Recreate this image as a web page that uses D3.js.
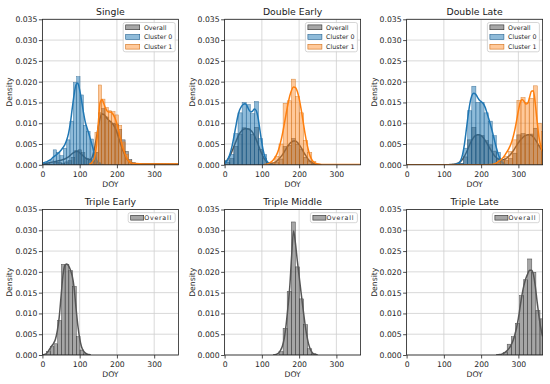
<!DOCTYPE html>
<html>
<head>
<meta charset="utf-8">
<script src="https://cdn.jsdelivr.net/npm/d3@7"></script>
<style>
    body { margin: 0; background: #ffffff; }
    svg { display: block; font-family: "DejaVu Sans", sans-serif; }
</style>
</head>
<body>
<div id="chart"></div>
<script>
(function() {
    'use strict';

    // ---- data (density per bin, DOY) ----
    var panelTitles = ["Single", "Double Early", "Double Late", "Triple Early", "Triple Middle", "Triple Late"];
    var seriesNames = ["Overall", "Cluster 0", "Cluster 1"];
    var xTicks = [0, 100, 200, 300];
    var yTicks = [0, 0.005, 0.010, 0.015, 0.020, 0.025, 0.030, 0.035];
    var xDomain = [0, 365];
    var yDomain = [0, 0.035];

    // first bin edge for [overall, cluster 0, cluster 1], and bin width (days)
    var singleBinStart = [6, 2, 132];
    var singleBinWidth = 9;
    var singleOverallHist = [0.0001, 0.0001, 0.0002, 0.0006, 0.0005, 0.0004, 0.0007, 0.0010, 0.0018, 0.0034,
        0.0036, 0.0029, 0.0016, 0.0014, 0.0012, 0.0030, 0.0125, 0.0135, 0.0115, 0.0105, 0.0100, 0.0098,
        0.0085, 0.0060, 0.0032, 0.0013, 0.0005, 0.0002, 0.0002, 0.0002, 0.0002, 0.0002, 0.0002, 0.0002,
        0.0002, 0.0002, 0.0002, 0.0002, 0.0002, 0.0002, 0.0002];
    var singleC0Hist = [0.0004, 0.0006, 0.0012, 0.0036, 0.0030, 0.0022, 0.0040, 0.0060, 0.0105, 0.0198,
        0.0212, 0.0168, 0.0095, 0.0080, 0.0062, 0.0030, 0.0006];
    var singleC1Hist = [0.0005, 0.0078, 0.0192, 0.0158, 0.0138, 0.0130, 0.0128, 0.0120, 0.0095, 0.0055,
        0.0025, 0.0010, 0.0004, 0.0002, 0.0002, 0.0002, 0.0002, 0.0002, 0.0002, 0.0002, 0.0002, 0.0002,
        0.0002, 0.0002, 0.0002, 0.0002];
    var singleOverallKde = [[0, 0.0001], [10, 0.0003], [20, 0.0005], [30, 0.0007], [40, 0.0009], [50, 0.0011],
        [60, 0.0014], [70, 0.0019], [80, 0.0027], [85, 0.0030], [90, 0.0032], [95, 0.0032], [100, 0.0029],
        [105, 0.0025], [110, 0.0021], [115, 0.0017], [120, 0.0014], [125, 0.0012], [130, 0.0013], [135, 0.0022],
        [140, 0.0040], [145, 0.0065], [150, 0.0092], [155, 0.0113], [160, 0.0122], [165, 0.0121], [170, 0.0116],
        [175, 0.0110], [180, 0.0106], [185, 0.0102], [190, 0.0097], [195, 0.0089], [200, 0.0078], [205, 0.0064],
        [210, 0.0050], [215, 0.0037], [220, 0.0026], [225, 0.0017], [230, 0.0010], [235, 0.0006], [240, 0.0004],
        [250, 0.0002], [300, 0.0002], [365, 0.0001]];
    var singleC0Kde = [[0, 0.0004], [10, 0.0007], [20, 0.0011], [30, 0.0019], [40, 0.0026], [50, 0.0035],
        [55, 0.0041], [60, 0.0048], [65, 0.0059], [70, 0.0075], [75, 0.0100], [80, 0.0135], [85, 0.0168],
        [90, 0.0192], [95, 0.0197], [100, 0.0180], [105, 0.0155], [110, 0.0127], [115, 0.0103], [120, 0.0088],
        [125, 0.0074], [130, 0.0058], [135, 0.0042], [140, 0.0025], [145, 0.0012], [150, 0.0005], [155, 0.0002],
        [165, 0]];
    var singleC1Kde = [[125, 0.0001], [130, 0.0003], [135, 0.0008], [140, 0.0018], [145, 0.0045], [150, 0.0100],
        [155, 0.0150], [160, 0.0157], [165, 0.0147], [170, 0.0135], [175, 0.0128], [180, 0.0127], [185, 0.0126],
        [190, 0.0121], [195, 0.0112], [200, 0.0098], [205, 0.0080], [210, 0.0061], [215, 0.0044], [220, 0.0030],
        [225, 0.0019], [230, 0.0011], [235, 0.0006], [240, 0.0004], [250, 0.0003], [270, 0.0002], [365, 0.0002]];

    var doubleEarlyBinStart = [3, 3, 124];
    var doubleEarlyBinWidth = 11;
    var doubleEarlyOverallHist = [0.0006, 0.0015, 0.0044, 0.0074, 0.0089, 0.0086, 0.0073, 0.0090, 0.0037, 0.0015,
        0.0003, 0.0001, 0.0005, 0.0014, 0.0044, 0.0047, 0.0063, 0.0050, 0.0038, 0.0018, 0.0009, 0.0002];
    var doubleEarlyC0Hist = [0.0010, 0.0025, 0.0075, 0.0125, 0.0150, 0.0145, 0.0123, 0.0152, 0.0063, 0.0025, 0.0005];
    var doubleEarlyC1Hist = [0.0006, 0.0020, 0.0050, 0.0148, 0.0154, 0.0206, 0.0164, 0.0125, 0.0059, 0.0030, 0.0008, 0.0002];
    var doubleEarlyOverallKde = [[0, 0.0005], [5, 0.0009], [10, 0.0015], [15, 0.0023], [20, 0.0033], [25, 0.0044],
        [30, 0.0055], [35, 0.0066], [40, 0.0075], [45, 0.0081], [50, 0.0085], [55, 0.0087], [60, 0.0087],
        [65, 0.0086], [70, 0.0083], [75, 0.0078], [80, 0.0070], [85, 0.0060], [90, 0.0049], [95, 0.0037],
        [100, 0.0026], [105, 0.0017], [110, 0.0010], [115, 0.0006], [120, 0.0004], [125, 0.0003], [130, 0.0004],
        [135, 0.0006], [140, 0.0009], [145, 0.0013], [150, 0.0018], [155, 0.0024], [160, 0.0031], [165, 0.0038],
        [170, 0.0045], [175, 0.0051], [180, 0.0055], [185, 0.0057], [190, 0.0057], [195, 0.0054], [200, 0.0049],
        [205, 0.0042], [210, 0.0034], [215, 0.0026], [220, 0.0019], [225, 0.0012], [230, 0.0008], [235, 0.0005],
        [240, 0.0003], [250, 0.0001], [260, 0]];
    var doubleEarlyC0Kde = [[0, 0.0003], [5, 0.0008], [10, 0.0016], [15, 0.0028], [20, 0.0045], [25, 0.0067],
        [30, 0.0092], [35, 0.0115], [40, 0.0131], [45, 0.0140], [50, 0.0145], [55, 0.0147], [60, 0.0142],
        [65, 0.0133], [70, 0.0127], [75, 0.0129], [80, 0.0134], [85, 0.0130], [90, 0.0112], [95, 0.0082],
        [100, 0.0052], [105, 0.0029], [110, 0.0015], [115, 0.0007], [120, 0.0003], [125, 0.0001], [135, 0]];
    var doubleEarlyC1Kde = [[105, 0], [110, 0.0001], [115, 0.0002], [120, 0.0004], [125, 0.0007], [130, 0.0011],
        [135, 0.0017], [140, 0.0025], [145, 0.0037], [150, 0.0053], [155, 0.0073], [160, 0.0097], [165, 0.0122],
        [170, 0.0146], [175, 0.0166], [180, 0.0180], [185, 0.0187], [190, 0.0186], [195, 0.0177], [200, 0.0160],
        [205, 0.0136], [210, 0.0108], [215, 0.0080], [220, 0.0055], [225, 0.0035], [230, 0.0020], [235, 0.0011],
        [240, 0.0006], [245, 0.0003], [250, 0.0002], [260, 0.0001], [365, 0.0001]];

    var doubleLateBinStart = [131, 142, 241];
    var doubleLateBinWidth = 11;
    var doubleLateOverallHist = [0.0001, 0.0003, 0.0019, 0.0060, 0.0090, 0.0070, 0.0070, 0.0058, 0.0048, 0.0033,
        0.0016, 0.0008, 0.0010, 0.0015, 0.0028, 0.0072, 0.0075, 0.0070, 0.0074, 0.0088, 0.0046, 0.0037];
    var doubleLateC0Hist = [0.0003, 0.0040, 0.0130, 0.0189, 0.0150, 0.0150, 0.0125, 0.0105, 0.0070, 0.0030, 0.0006];
    var doubleLateC1Hist = [0.0005, 0.0010, 0.0020, 0.0032, 0.0060, 0.0155, 0.0162, 0.0150, 0.0160, 0.0190, 0.0100, 0.0080];
    var doubleLateOverallKde = [[0, 0], [110, 0], [120, 0.0001], [130, 0.0002], [135, 0.0003], [140, 0.0005],
        [145, 0.0008], [150, 0.0013], [155, 0.0020], [160, 0.0029], [165, 0.0039], [170, 0.0050], [175, 0.0059],
        [180, 0.0066], [185, 0.0070], [190, 0.0072], [195, 0.0072], [200, 0.0070], [205, 0.0066], [210, 0.0060],
        [215, 0.0053], [220, 0.0045], [225, 0.0037], [230, 0.0030], [235, 0.0023], [240, 0.0018], [245, 0.0014],
        [250, 0.0012], [255, 0.0011], [260, 0.0012], [265, 0.0014], [270, 0.0017], [275, 0.0021], [280, 0.0026],
        [285, 0.0032], [290, 0.0039], [295, 0.0046], [300, 0.0053], [305, 0.0059], [310, 0.0064], [315, 0.0068],
        [320, 0.0071], [325, 0.0072], [330, 0.0072], [335, 0.0071], [340, 0.0067], [345, 0.0061], [350, 0.0054],
        [355, 0.0046], [360, 0.0039], [365, 0.0033]];
    var doubleLateC0Kde = [[125, 0], [135, 0.0002], [140, 0.0004], [145, 0.0010], [150, 0.0024], [155, 0.0048],
        [160, 0.0082], [165, 0.0118], [170, 0.0148], [175, 0.0166], [180, 0.0172], [185, 0.0170], [190, 0.0163],
        [195, 0.0156], [200, 0.0152], [205, 0.0148], [210, 0.0140], [215, 0.0127], [220, 0.0112], [225, 0.0097],
        [230, 0.0080], [235, 0.0062], [240, 0.0044], [245, 0.0028], [250, 0.0016], [255, 0.0008], [260, 0.0003],
        [265, 0.0001], [275, 0]];
    var doubleLateC1Kde = [[0, 0], [200, 0], [230, 0.0001], [235, 0.0002], [240, 0.0004], [245, 0.0007],
        [250, 0.0010], [255, 0.0014], [260, 0.0018], [265, 0.0025], [270, 0.0032], [275, 0.0040], [280, 0.0050],
        [285, 0.0064], [290, 0.0082], [295, 0.0105], [300, 0.0130], [305, 0.0150], [310, 0.0157], [315, 0.0153],
        [320, 0.0146], [325, 0.0148], [330, 0.0162], [335, 0.0177], [340, 0.0178], [345, 0.0150], [350, 0.0107],
        [355, 0.0068], [360, 0.0045], [365, 0.0032]];

    var tripleEarlyBinStart = 11;
    var tripleEarlyBinWidth = 10;
    var tripleEarlyHist = [0.0008, 0.0020, 0.0027, 0.0083, 0.0218, 0.0218, 0.0203, 0.0165, 0.0044, 0.0012, 0.0003];
    var tripleEarlyKde = [[0, 0], [5, 0.0001], [10, 0.0003], [15, 0.0008], [20, 0.0015], [25, 0.0022], [30, 0.0028],
        [35, 0.0038], [40, 0.0058], [45, 0.0090], [50, 0.0140], [55, 0.0190], [60, 0.0215], [65, 0.0219],
        [70, 0.0215], [75, 0.0205], [80, 0.0190], [85, 0.0163], [90, 0.0115], [95, 0.0072], [100, 0.0040],
        [105, 0.0020], [110, 0.0010], [115, 0.0005], [120, 0.0002], [125, 0.0001], [130, 0]];

    var tripleMiddleBinStart = 146;
    var tripleMiddleBinWidth = 11;
    var tripleMiddleHist = [0.0008, 0.0064, 0.0153, 0.0320, 0.0212, 0.0135, 0.0073, 0.0015, 0.0003];
    var tripleMiddleKde = [[130, 0], [140, 0.0002], [145, 0.0005], [150, 0.0011], [155, 0.0021], [160, 0.0040],
        [165, 0.0072], [170, 0.0115], [175, 0.0165], [180, 0.0240], [185, 0.0298], [190, 0.0270], [195, 0.0228],
        [200, 0.0190], [205, 0.0152], [210, 0.0115], [215, 0.0080], [220, 0.0050], [225, 0.0028], [230, 0.0014],
        [235, 0.0006], [240, 0.0002], [245, 0.0001], [250, 0]];

    var tripleLateBinStart = 259;
    var tripleLateBinWidth = 11;
    var tripleLateHist = [0.0006, 0.0026, 0.0044, 0.0076, 0.0143, 0.0181, 0.0231, 0.0199, 0.0107, 0.0087];
    var tripleLateKde = [[240, 0], [250, 0.0001], [255, 0.0002], [260, 0.0004], [265, 0.0007], [270, 0.0011],
        [275, 0.0016], [280, 0.0023], [285, 0.0033], [290, 0.0047], [295, 0.0065], [300, 0.0088], [305, 0.0118],
        [310, 0.0146], [315, 0.0168], [320, 0.0184], [325, 0.0195], [330, 0.0204], [335, 0.0204], [340, 0.0195],
        [345, 0.0168], [350, 0.0130], [355, 0.0095], [360, 0.0065], [365, 0.0045]];

    // ---- layout ----
    var width = 550;
    var height = 384;
    var colLeft = [42.4, 224.6, 406.6];
    var rowTop = [19.3, 209.5];
    var plotW = 136;
    var plotH = 145.5;

    var style = {
        "Overall":   {fill: "#4d4d4d", fillOpacity: 0.5, stroke: "#2b2b2b", line: "#555555"},
        "Cluster 0": {fill: "#1f77b4", fillOpacity: 0.5, stroke: "#1f5f8f", line: "#1f77b4"},
        "Cluster 1": {fill: "#ff7f0e", fillOpacity: 0.42, stroke: "#d0701a", line: "#ff7f0e"}
    };

    function series(name, hist, start, binWidth, kde) {
        return {name: name, hist: hist, start: start, binWidth: binWidth, kde: kde};
    }

    var panels = [
        {title: panelTitles[0], series: [
            series(seriesNames[0], singleOverallHist, singleBinStart[0], singleBinWidth, singleOverallKde),
            series(seriesNames[1], singleC0Hist, singleBinStart[1], singleBinWidth, singleC0Kde),
            series(seriesNames[2], singleC1Hist, singleBinStart[2], singleBinWidth, singleC1Kde)]},
        {title: panelTitles[1], series: [
            series(seriesNames[0], doubleEarlyOverallHist, doubleEarlyBinStart[0], doubleEarlyBinWidth, doubleEarlyOverallKde),
            series(seriesNames[1], doubleEarlyC0Hist, doubleEarlyBinStart[1], doubleEarlyBinWidth, doubleEarlyC0Kde),
            series(seriesNames[2], doubleEarlyC1Hist, doubleEarlyBinStart[2], doubleEarlyBinWidth, doubleEarlyC1Kde)]},
        {title: panelTitles[2], series: [
            series(seriesNames[0], doubleLateOverallHist, doubleLateBinStart[0], doubleLateBinWidth, doubleLateOverallKde),
            series(seriesNames[1], doubleLateC0Hist, doubleLateBinStart[1], doubleLateBinWidth, doubleLateC0Kde),
            series(seriesNames[2], doubleLateC1Hist, doubleLateBinStart[2], doubleLateBinWidth, doubleLateC1Kde)]},
        {title: panelTitles[3], series: [
            series(seriesNames[0], tripleEarlyHist, tripleEarlyBinStart, tripleEarlyBinWidth, tripleEarlyKde)]},
        {title: panelTitles[4], series: [
            series(seriesNames[0], tripleMiddleHist, tripleMiddleBinStart, tripleMiddleBinWidth, tripleMiddleKde)]},
        {title: panelTitles[5], series: [
            series(seriesNames[0], tripleLateHist, tripleLateBinStart, tripleLateBinWidth, tripleLateKde)]}
    ];

    var svg = d3.select("#chart").append("svg")
        .attr("width", width)
        .attr("height", height);

    var xScale = d3.scaleLinear().domain(xDomain).range([0, plotW]);
    var yScale = d3.scaleLinear().domain(yDomain).range([plotH, 0]);

    var lineGen = d3.line()
        .x(d => xScale(d[0]))
        .y(d => yScale(d[1]))
        .curve(d3.curveMonotoneX);

    panels.forEach(function(panel, p) {
        var row = Math.floor(p / 3);
        var col = p % 3;
        var g = svg.append("g")
            .attr("transform", "translate(" + colLeft[col] + "," + rowTop[row] + ")");

        var clipId = "clip" + p;
        g.append("clipPath").attr("id", clipId)
            .append("rect").attr("width", plotW).attr("height", plotH);

        // grid
        g.append("g").selectAll("line.gx").data(xTicks).enter().append("line")
            .attr("x1", d => xScale(d)).attr("x2", d => xScale(d))
            .attr("y1", 0).attr("y2", plotH)
            .attr("stroke", "#cfcfcf").attr("stroke-width", 0.8);
        g.append("g").selectAll("line.gy").data(yTicks).enter().append("line")
            .attr("x1", 0).attr("x2", plotW)
            .attr("y1", d => yScale(d)).attr("y2", d => yScale(d))
            .attr("stroke", "#cfcfcf").attr("stroke-width", 0.8);

        var plot = g.append("g").attr("clip-path", "url(#" + clipId + ")");

        panel.series.forEach(function(s) {
            var st = style[s.name];
            var bins = s.hist.map((v, i) => ({x0: s.start + i * s.binWidth, x1: s.start + (i + 1) * s.binWidth, v: v}));
            plot.append("g").selectAll("rect").data(bins).enter().append("rect")
                .attr("x", d => xScale(d.x0))
                .attr("width", d => xScale(d.x1) - xScale(d.x0))
                .attr("y", d => yScale(d.v))
                .attr("height", d => yScale(0) - yScale(d.v))
                .attr("fill", st.fill)
                .attr("fill-opacity", st.fillOpacity)
                .attr("stroke", st.stroke)
                .attr("stroke-opacity", 0.8)
                .attr("stroke-width", 0.5);

            plot.append("path")
                .attr("d", lineGen(s.kde))
                .attr("fill", "none")
                .attr("stroke", st.line)
                .attr("stroke-width", 1.5);
        });

        // axes
        var xAxis = d3.axisBottom(xScale).tickValues(xTicks).tickSize(3.5).tickPadding(3);
        var yAxis = d3.axisLeft(yScale).tickValues(yTicks).tickFormat(d3.format(".3f")).tickSize(3.5).tickPadding(1.5);

        var gx = g.append("g").attr("transform", "translate(0," + plotH + ")").call(xAxis);
        var gy = g.append("g").call(yAxis);
        [gx, gy].forEach(function(a) {
            a.select(".domain").remove();
            a.selectAll("line").attr("stroke", "#222").attr("stroke-width", 0.8);
            a.selectAll("text").attr("fill", "#262626")
                .style("font-size", "7.7px")
                .style("font-family", "DejaVu Sans, sans-serif");
        });

        g.append("rect")
            .attr("width", plotW).attr("height", plotH)
            .attr("fill", "none").attr("stroke", "#222").attr("stroke-width", 0.8);

        // titles
        g.append("text")
            .attr("x", plotW / 2).attr("y", -4.8)
            .attr("text-anchor", "middle")
            .attr("fill", "#1a1a1a")
            .style("font-size", "9.3px")
            .text(panel.title);

        g.append("text")
            .attr("x", plotW / 2).attr("y", plotH + 22.3)
            .attr("text-anchor", "middle")
            .attr("fill", "#262626")
            .style("font-size", "7.7px")
            .text("DOY");

        g.append("text")
            .attr("transform", "translate(-30," + (plotH / 2) + ") rotate(-90)")
            .attr("text-anchor", "middle")
            .attr("fill", "#262626")
            .style("font-size", "7.7px")
            .text("Density");

        // legend
        var n = panel.series.length;
        var legW = n > 1 ? 52 : 47;
        var legH = n > 1 ? 29.3 : 10;
        var rowStep = 9.7;
        var leg = g.append("g")
            .attr("transform", "translate(" + (plotW - 3.2 - legW) + ",3.2)");
        leg.append("rect")
            .attr("width", legW).attr("height", legH)
            .attr("rx", 2)
            .attr("fill", "#ffffff").attr("fill-opacity", 0.8)
            .attr("stroke", "#cccccc").attr("stroke-width", 0.8);

        panel.series.forEach(function(s, i) {
            var st = style[s.name];
            var cy = (n > 1 ? 4.8 : 5) + i * rowStep;
            leg.append("rect")
                .attr("x", 2.5).attr("y", cy - 2.4)
                .attr("width", n > 1 ? 14 : 13).attr("height", 4.8)
                .attr("fill", st.fill).attr("fill-opacity", st.fillOpacity)
                .attr("stroke", st.stroke).attr("stroke-width", 0.6);
            var t = leg.append("text")
                .attr("x", n > 1 ? 20.7 : 16)
                .attr("y", cy + 2.2)
                .attr("fill", "#262626")
                .style("font-size", "6.3px")
                .text(s.name);
            if (n === 1) {
                t.attr("textLength", 27).attr("lengthAdjust", "spacing");
            }
        });
    });
})();
</script>
</body>
</html>
